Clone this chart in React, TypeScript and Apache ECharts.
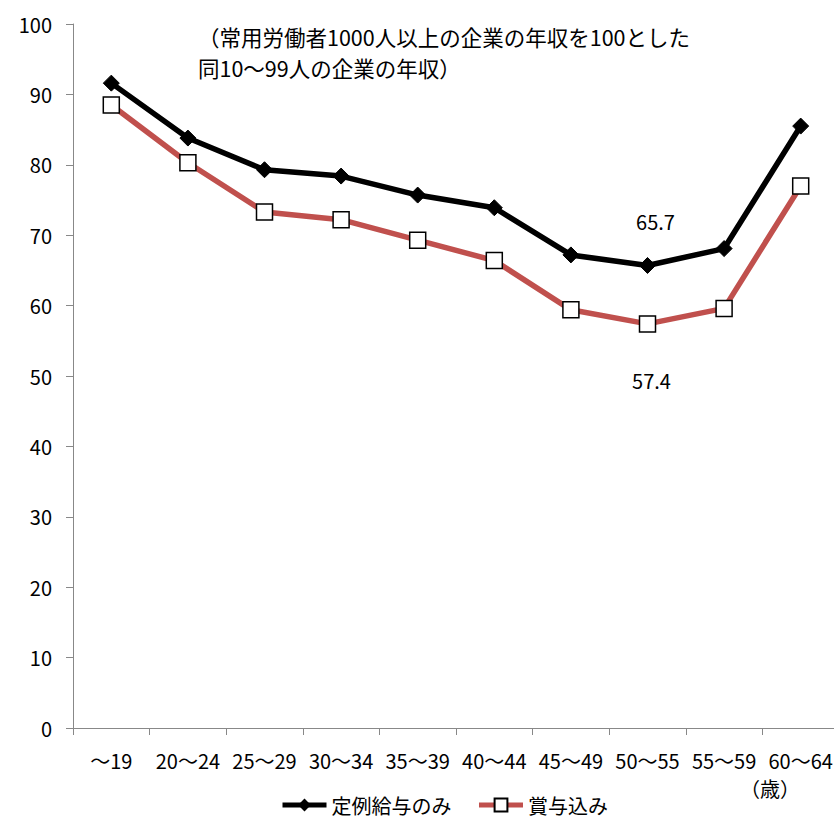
import React, { useEffect, useRef } from "react";
import * as echarts from "echarts";

const categories = ["～19", "20～24", "25～29", "30～34", "35～39", "40～44", "45～49", "50～55", "55～59", "60～64"];
const regularOnly = [91.6, 83.8, 79.3, 78.4, 75.7, 73.9, 67.2, 65.7, 68.1, 85.5];
const withBonus = [88.5, 80.3, 73.3, 72.2, 69.3, 66.4, 59.4, 57.4, 59.6, 77.0];
const seriesNames = ["定例給与のみ", "賞与込み"];
const yTicks = { min: 0, max: 100, interval: 10 };
const noteLines = ["（常用労働者1000人以上の企業の年収を100とした", "同10～99人の企業の年収）"];
const unitLabel = "（歳）";
const labelIndex = 7;

const FONT = "'Noto Sans CJK JP', 'Noto Sans', sans-serif";

export default function App() {
  const ref = useRef<HTMLDivElement>(null);
  useEffect(() => {
    if (!ref.current) return;
    const chart = echarts.init(ref.current, undefined, { renderer: "svg" });
    const mk = (vals: number[], off: number[]) =>
      vals.map((v, i) =>
        i === labelIndex
          ? {
              value: v,
              label: {
                show: true,
                formatter: String(v.toFixed(1)),
                position: "top",
                offset: off,
                fontSize: 20,
                color: "#000",
                fontFamily: FONT,
              },
            }
          : v
      );
    chart.setOption({
      animation: false,
      backgroundColor: "#fff",
      textStyle: { fontFamily: FONT },
      grid: { left: 73, right: 6, top: 24, bottom: 91, containLabel: false },
      legend: {
        bottom: -1,
        left: 275,
        itemWidth: 44,
        itemHeight: 16,
        itemGap: 25,
        lineStyle: { width: 5 },
        textStyle: { fontSize: 20, color: "#000", fontFamily: FONT },
        data: seriesNames,
      },
      xAxis: {
        type: "category",
        data: categories,
        boundaryGap: true,
        axisLine: { lineStyle: { color: "#888", width: 1 } },
        axisTick: { show: true, alignWithLabel: false, length: 7, lineStyle: { color: "#888" } },
        axisLabel: { fontSize: 20, color: "#000", margin: 22, fontFamily: FONT, interval: 0 },
      },
      yAxis: {
        type: "value",
        min: yTicks.min,
        max: yTicks.max,
        interval: yTicks.interval,
        splitLine: { show: false },
        axisLine: { show: true, lineStyle: { color: "#888", width: 1 } },
        axisTick: { show: true, length: 7, lineStyle: { color: "#888" } },
        axisLabel: { fontSize: 20, color: "#000", margin: 21, fontFamily: FONT },
      },
      graphic: [
        {
          type: "text",
          left: 198,
          top: 21,
          style: {
            text: noteLines.join("\n"),
            fontSize: 21.5,
            lineHeight: 31,
            fill: "#000",
            fontFamily: FONT,
          },
        },
        {
          type: "text",
          left: 740,
          top: 778,
          style: { text: unitLabel, fontSize: 20, fill: "#000", fontFamily: FONT },
        },
      ],
      series: [
        {
          name: seriesNames[0],
          type: "line",
          data: mk(regularOnly, [8, -20]),
          symbol: "diamond",
          symbolSize: 16,
          lineStyle: { color: "#000", width: 5.5 },
          itemStyle: { color: "#000", borderColor: "#000" },
          z: 3,
        },
        {
          name: seriesNames[1],
          type: "line",
          data: mk(withBonus, [4, 80]),
          symbol: "rect",
          symbolSize: 16,
          lineStyle: { color: "#C0504D", width: 5.5 },
          itemStyle: { color: "#fff", borderColor: "#000", borderWidth: 1.5 },
          z: 2,
        },
      ],
    });
    return () => chart.dispose();
  }, []);
  return (
    <div style={{ position: "absolute", left: 0, top: 0, width: 834, height: 819, overflow: "hidden" }}>
      <div ref={ref} style={{ width: 845, height: 819 }} />
    </div>
  );
}
